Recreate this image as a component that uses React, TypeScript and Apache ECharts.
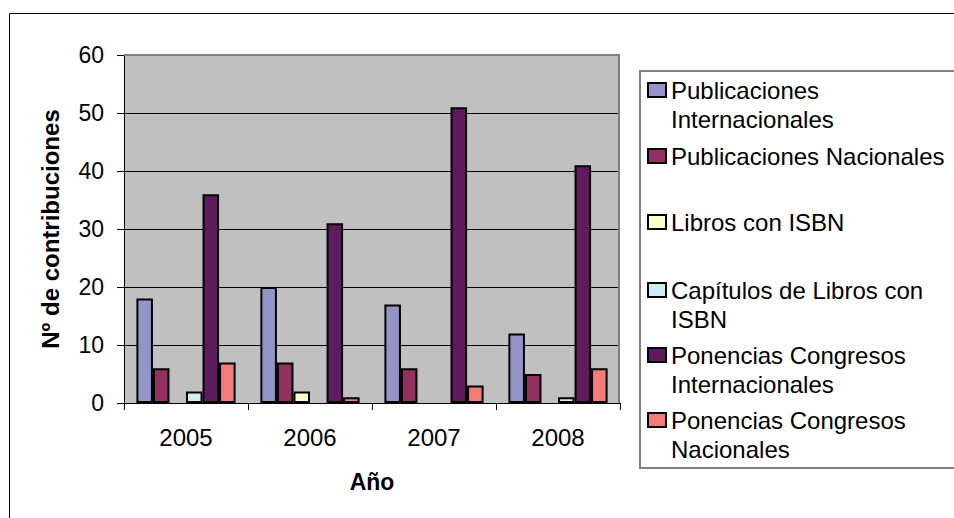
import React, { useEffect, useRef } from "react";
import * as echarts from "echarts";

const categories = ["2005", "2006", "2007", "2008"];
const seriesNames = [
  "Publicaciones Internacionales",
  "Publicaciones Nacionales",
  "Libros con ISBN",
  "Capítulos de Libros con ISBN",
  "Ponencias Congresos Internacionales",
  "Ponencias Congresos Nacionales",
];
const legendLines = [
  ["Publicaciones", "Internacionales"],
  ["Publicaciones Nacionales"],
  ["Libros con ISBN"],
  ["Capítulos de Libros con", "ISBN"],
  ["Ponencias Congresos", "Internacionales"],
  ["Ponencias Congresos", "Nacionales"],
];
const pubInternacionales = [18, 20, 17, 12];
const pubNacionales = [6, 7, 6, 5];
const librosISBN = [0, 2, 0, 0];
const capitulosISBN = [2, 0, 0, 1];
const ponInternacionales = [36, 31, 51, 41];
const ponNacionales = [7, 1, 3, 6];
const yTicks = { min: 0, max: 60, interval: 10 };

const colors = ["#9494C8", "#92305F", "#FFFFCC", "#CCEEF0", "#5E1C5E", "#F57B7B"];
const FONT = "'Liberation Sans', Arial, sans-serif";

export default function App() {
  const ref = useRef<HTMLDivElement>(null);
  useEffect(() => {
    if (!ref.current) return;
    const chart = echarts.init(ref.current, null, { renderer: "svg" });
    const values = [
      pubInternacionales,
      pubNacionales,
      librosISBN,
      capitulosISBN,
      ponInternacionales,
      ponNacionales,
    ];
    const iconCenters = [90, 156, 222, 290, 355, 420];
    const LH = 29;
    const legends = seriesNames.map((name, i) => {
      const lines = legendLines[i];
      const twoLines = lines.length > 1;
      // For two-line items an empty leading line keeps the first line level with the icon
      const label = twoLines ? "\n" + lines.join("\n") : lines[0];
      return {
        data: [name],
        left: 647,
        top: twoLines ? iconCenters[i] - LH * 1.5 : iconCenters[i] - LH / 2,
        orient: "vertical",
        padding: 0,
        itemWidth: 18,
        itemHeight: 14,
        itemGap: 0,
        icon: "rect",
        selectedMode: false,
        itemStyle: { borderColor: "#000", borderWidth: 2 },
        formatter: () => label,
        textStyle: {
          fontFamily: FONT,
          fontSize: 24,
          lineHeight: LH,
          color: "#000",
        },
      };
    });
    chart.setOption({
      animation: false,
      backgroundColor: "#fff",
      textStyle: { fontFamily: FONT },
      grid: {
        left: 124,
        right: 334,
        top: 55,
        bottom: 115,
        show: true,
        backgroundColor: "#C0C0C0",
        borderWidth: 0,
      },
      legend: legends,
      graphic: [
        {
          type: "rect",
          shape: { x: 9.5, y: 13.5, width: 1000, height: 600 },
          style: { fill: "none", stroke: "#000", lineWidth: 1 },
          z: -10,
          silent: true,
        },
        {
          type: "rect",
          shape: { x: 640, y: 71, width: 400, height: 397 },
          style: { fill: "#fff", stroke: "#808080", lineWidth: 2 },
          z: -5,
          silent: true,
        },
        {
          type: "polyline",
          shape: { points: [[124, 55], [619, 55], [619, 403]] },
          style: { fill: "none", stroke: "#808080", lineWidth: 2 },
          z: 100,
          silent: true,
        },
      ],
      xAxis: {
        type: "category",
        data: categories,
        name: "Año",
        nameLocation: "middle",
        nameGap: 67,
        nameTextStyle: { fontFamily: FONT, fontSize: 23, fontWeight: "bold", color: "#000" },
        axisLine: { show: true, lineStyle: { color: "#000", width: 1 } },
        axisTick: { show: true, length: 7, alignWithLabel: false, lineStyle: { color: "#000" } },
        axisLabel: { fontFamily: FONT, fontSize: 24, color: "#000", margin: 22 },
        splitLine: { show: false },
      },
      yAxis: {
        type: "value",
        min: yTicks.min,
        max: yTicks.max,
        interval: yTicks.interval,
        name: "Nº de contribuciones",
        nameLocation: "middle",
        nameGap: 62,
        nameTextStyle: { fontFamily: FONT, fontSize: 24, fontWeight: "bold", color: "#000" },
        axisLine: { show: true, lineStyle: { color: "#000", width: 1 } },
        axisTick: { show: true, length: 7, lineStyle: { color: "#000" } },
        axisLabel: { fontFamily: FONT, fontSize: 23, color: "#000", margin: 20 },
        splitLine: { show: true, lineStyle: { color: "#000", width: 1 } },
      },
      series: seriesNames.map((name, i) => ({
        name,
        type: "bar",
        barGap: "0%",
        barCategoryGap: "20%",
        data: values[i].map((v) => (v === 0 ? "-" : v)),
        itemStyle: { color: colors[i], borderColor: "#000", borderWidth: 2 },
      })),
    });
    return () => chart.dispose();
  }, []);
  return (
    <div
      ref={ref}
      style={{ position: "absolute", left: 0, top: 0, width: 954, height: 518 }}
    />
  );
}
